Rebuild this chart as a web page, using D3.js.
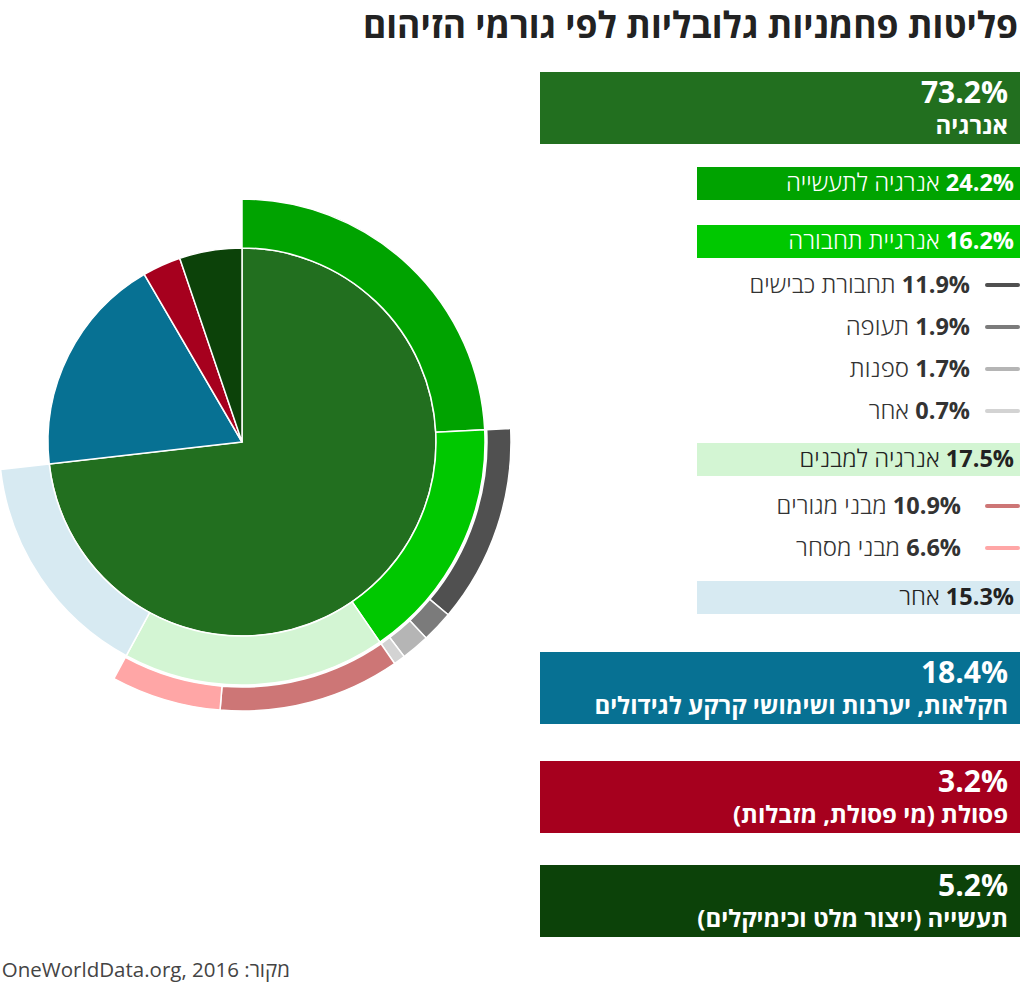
<!DOCTYPE html>
<html lang="he">
<head>
  <meta charset="UTF-8">
  <title>פליטות פחמניות גלובליות</title>
  <script src="https://cdnjs.cloudflare.com/ajax/libs/d3/7.8.5/d3.min.js"></script>
  <style>
    * { margin: 0; padding: 0; box-sizing: border-box; }
    body { background: #fff; width: 1024px; height: 987px; overflow: hidden; }
    svg text { font-family: "Open Sans", "DejaVu Sans", sans-serif; }
  </style>
</head>
<body>
<div id="chart"></div>
<script>
  // Data
  const mainLabels = ["אנרגיה", "חקלאות, יערנות ושימושי קרקע לגידולים", "פסולת (מי פסולת, מזבלות)", "תעשייה (ייצור מלט וכימיקלים)"];
  const mainValues = [73.2, 18.4, 3.2, 5.2];
  const mainColors = ["#226f1f", "#077193", "#a6001e", "#0c4209"];

  const energyLabels = ["אנרגיה לתעשייה", "אנרגיית תחבורה", "אנרגיה למבנים", "אחר"];
  const energyValues = [24.2, 16.2, 17.5, 15.3];
  const energyColors = ["#00a300", "#00c800", "#d3f5d3", "#d7eaf2"];
  const energyTextColors = ["#fff", "#fff", "#222", "#222"];

  const transportLabels = ["תחבורת כבישים", "תעופה", "ספנות", "אחר"];
  const transportValues = [11.9, 1.9, 1.7, 0.7];
  const transportColors = ["#505050", "#7b7b7b", "#b5b5b5", "#d3d3d3"];

  const buildingLabels = ["מבני מגורים", "מבני מסחר"];
  const buildingValues = [10.9, 6.6];
  const buildingColors = ["#cd7676", "#ffa6a6"];

  const width = 1024, height = 987;
  const cx = 242, cy = 442;
  const rPie = 194, rMid = [194, 243], rOut = [245, 269];

  const svg = d3.select("#chart").append("svg")
      .attr("width", width).attr("height", height);

  // angle scale: percent -> radians, clockwise from 12 o'clock
  const ang = d3.scaleLinear().domain([0, 100]).range([0, 2 * Math.PI]);

  function segments(values, offset) {
    let acc = offset;
    return values.map((v, i) => {
      const s = { i, value: v, start: acc, end: acc + v };
      acc += v;
      return s;
    });
  }

  const g = svg.append("g").attr("transform", `translate(${cx},${cy})`);

  function ring(segs, r0, r1, colors) {
    const arc = d3.arc().innerRadius(r0).outerRadius(r1);
    g.append("g").selectAll("path")
        .data(segs)
        .join("path")
        .attr("d", d => arc({ startAngle: ang(d.start), endAngle: ang(d.end) }))
        .attr("fill", d => colors[d.i])
        .attr("stroke", "#fff")
        .attr("stroke-width", 1.5);
  }

  const mainSegs = segments(mainValues, 0);
  const energySegs = segments(energyValues, 0);
  const transportSegs = segments(transportValues, energySegs[1].start);
  const buildingSegs = segments(buildingValues, energySegs[2].start);

  ring(mainSegs, 0, rPie, mainColors);
  ring(energySegs, rMid[0], rMid[1], energyColors);
  ring(transportSegs, rOut[0], rOut[1], transportColors);
  ring(buildingSegs, rOut[0], rOut[1], buildingColors);

  // Title (all-Hebrew string, so plain end anchoring keeps it right-aligned)
  svg.append("text")
      .attr("x", 1018).attr("y", 38)
      .attr("text-anchor", "end")
      .attr("font-size", 36).attr("font-weight", 700)
      .attr("fill", "#222")
      .attr("textLength", 655).attr("lengthAdjust", "spacingAndGlyphs")
      .text("פליטות פחמניות גלובליות לפי גורמי הזיהום");

  // Legend
  const legend = svg.append("g");
  const fmt = v => v.toFixed(1) + "%";

  // main category boxes
  const mainTops = [72, 652, 761, 865];
  mainSegs.forEach((d, k) => {
    const top = mainTops[k];
    legend.append("rect")
        .attr("x", 540).attr("y", top).attr("width", 480).attr("height", 72)
        .attr("fill", mainColors[k]);
    legend.append("text")
        .attr("x", 1008).attr("y", top + 31)
        .attr("direction", "rtl").attr("text-anchor", "start")
        .attr("font-size", 30).attr("font-weight", 700).attr("fill", "#fff")
        .text(fmt(d.value));
    legend.append("text")
        .attr("x", 1008).attr("y", top + 62)
        .attr("direction", "rtl").attr("text-anchor", "start")
        .attr("font-size", 24).attr("font-weight", 700).attr("fill", "#fff")
        .text(mainLabels[k]);
  });

  function labelText(x, y, value, label, color) {
    const t = legend.append("text")
        .attr("x", x).attr("y", y)
        .attr("direction", "rtl").attr("text-anchor", "start")
        .attr("fill", color);
    t.append("tspan").attr("font-size", 23.5).attr("font-weight", 700).text(fmt(value));
    t.append("tspan").attr("font-size", 24).attr("font-weight", 300).text(" " + label);
  }

  // energy sub boxes
  const energyTops = [167, 225, 443, 581];
  energySegs.forEach((d, k) => {
    const top = energyTops[k];
    legend.append("rect")
        .attr("x", 697).attr("y", top).attr("width", 323).attr("height", 33)
        .attr("fill", energyColors[k]);
    labelText(1014, top + 24, d.value, energyLabels[k], energyTextColors[k]);
  });

  // transport / building rows with line markers
  function lineRows(segs, labels, colors, ys, textRight) {
    segs.forEach((d, k) => {
      legend.append("line")
          .attr("x1", 987).attr("x2", 1018)
          .attr("y1", ys[k]).attr("y2", ys[k])
          .attr("stroke", colors[k]).attr("stroke-width", 4)
          .attr("stroke-linecap", "round");
      labelText(textRight, ys[k] + 8, d.value, labels[k], "#333");
    });
  }
  lineRows(transportSegs, transportLabels, transportColors, [285, 327, 369, 411], 970);
  lineRows(buildingSegs, buildingLabels, buildingColors, [506, 548], 961);

  // Source
  svg.append("text")
      .attr("x", 290).attr("y", 977)
      .attr("direction", "rtl").attr("text-anchor", "start")
      .attr("font-size", 20.5).attr("fill", "#444")
      .text("מקור: OneWorldData.org, 2016");
</script>
</body>
</html>
